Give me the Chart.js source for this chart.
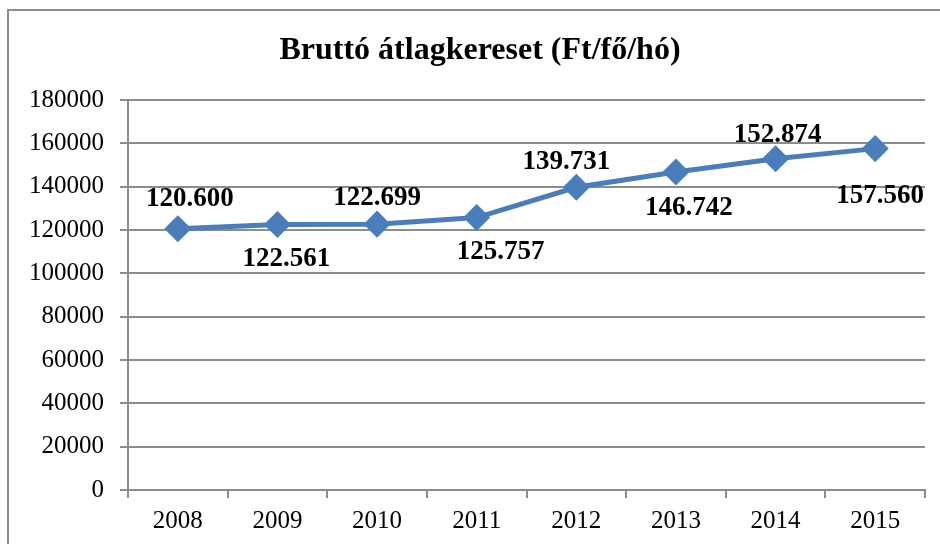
<!DOCTYPE html>
<html>
<head>
<meta charset="utf-8">
<script src="https://cdn.jsdelivr.net/npm/chart.js@4/dist/chart.umd.min.js"></script>
<style>
    html, body { margin: 0; padding: 0; background: #fff; }
    #wrap { width: 940px; height: 544px; }
</style>
</head>
<body>
<div id="wrap"><canvas id="chart" width="940" height="544"></canvas></div>
<script>
const years = ['2008', '2009', '2010', '2011', '2012', '2013', '2014', '2015'];
const earnings = [120600, 122561, 122699, 125757, 139731, 146742, 152874, 157560];
const yTicks = [0, 20000, 40000, 60000, 80000, 100000, 120000, 140000, 160000, 180000];

const titleText = 'Bruttó átlagkereset (Ft/fő/hó)';
const serif = "'Liberation Serif', 'Times New Roman', serif";
const gridColor = '#8c8c8c';

// label nudges in px (the labels were hand-placed in the original)
const labelDx = [12, 9, 0, 24, -10, 13, 2, 5];
const labelDy = [-32, 33, -28, 33, -27, 34, -26, 45];

// thousands with dot, as in the source
function formatHu(v) {
    return String(v).replace(/\B(?=(\d{3})+(?!\d))/g, '.');
}

const framePlugin = {
    id: 'frame',
    beforeDraw(chart) {
        const ctx = chart.ctx;
        ctx.save();
        ctx.strokeStyle = gridColor;
        ctx.lineWidth = 2;
        ctx.beginPath();
        ctx.moveTo(8, 560);
        ctx.lineTo(8, 10);
        ctx.lineTo(945, 10);
        ctx.stroke();
        // title
        ctx.fillStyle = '#000';
        ctx.font = 'bold 32px ' + serif;
        ctx.textAlign = 'center';
        ctx.textBaseline = 'middle';
        ctx.fillText(titleText, 480, 51);
        ctx.restore();
    }
};

const labelPlugin = {
    id: 'valueLabels',
    afterDatasetsDraw(chart) {
        const ctx = chart.ctx;
        const meta = chart.getDatasetMeta(0);
        ctx.save();
        ctx.fillStyle = '#000';
        ctx.font = 'bold 27px ' + serif;
        ctx.textAlign = 'center';
        ctx.textBaseline = 'middle';
        meta.data.forEach((pt, i) => {
            ctx.fillText(formatHu(earnings[i]), pt.x + labelDx[i], pt.y + labelDy[i] + 2);
        });
        ctx.restore();
    }
};

new Chart(document.getElementById('chart').getContext('2d'), {
    type: 'line',
    data: {
        labels: years,
        datasets: [{
            data: earnings,
            borderColor: '#4a7ebb',
            backgroundColor: '#4a7ebb',
            borderWidth: 5,
            pointStyle: 'rectRot',
            pointRadius: 10,
            pointHoverRadius: 10,
            tension: 0
        }]
    },
    options: {
        responsive: false,
        animation: false,
        events: [],
        layout: { padding: { top: 100, right: 15, bottom: 0, left: 0 } },
        plugins: {
            legend: { display: false },
            title: { display: false },
            tooltip: { enabled: false }
        },
        scales: {
            x: {
                offset: true,
                grid: {
                    offset: true,
                    drawOnChartArea: false,
                    color: gridColor,
                    lineWidth: 2,
                    tickLength: 8
                },
                border: { color: gridColor, width: 2 },
                ticks: {
                    color: '#000',
                    font: { family: serif, size: 25 },
                    padding: 8,
                    maxRotation: 0
                }
            },
            y: {
                min: 0,
                max: 180000,
                afterFit(scale) { scale.width = 128; },
                afterBuildTicks(scale) {
                    scale.ticks = yTicks.map(v => ({ value: v }));
                },
                grid: {
                    color: gridColor,
                    lineWidth: 2,
                    tickLength: 8
                },
                border: { color: gridColor, width: 2 },
                ticks: {
                    color: '#000',
                    font: { family: serif, size: 25 },
                    padding: 16,
                    callback: v => String(v)
                }
            }
        }
    },
    plugins: [framePlugin, labelPlugin]
});
</script>
</body>
</html>
